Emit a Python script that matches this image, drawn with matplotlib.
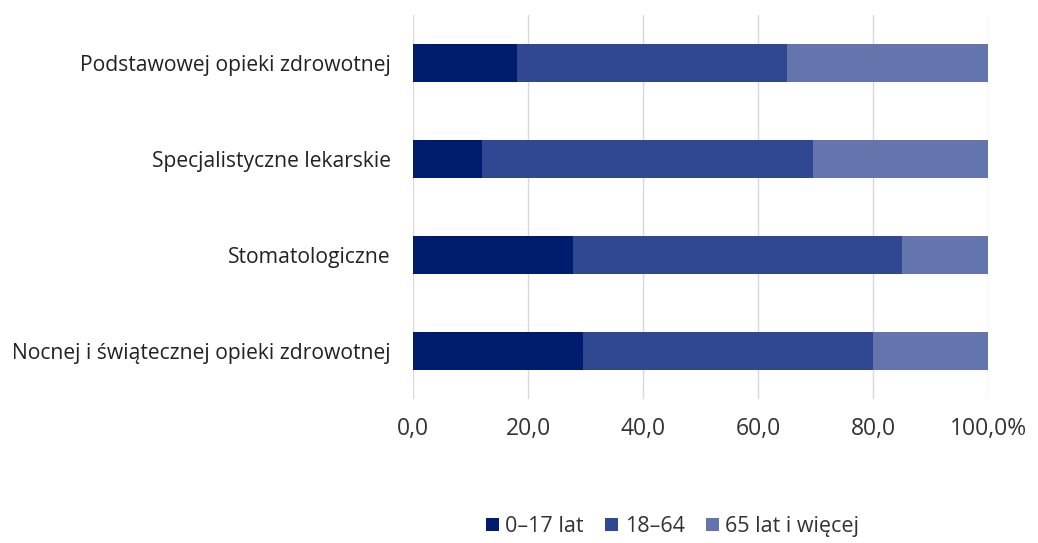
import matplotlib.pyplot as plt
import numpy as np

categories = ['Podstawowej opieki zdrowotnej', 'Specjalistyczne lekarskie',
              'Stomatologiczne', 'Nocnej i świątecznej opieki zdrowotnej']
age_0_17 = [18.1, 12.0, 27.8, 29.5]
age_18_64 = [46.9, 57.6, 57.2, 50.5]
age_65_plus = [35.0, 30.4, 15.0, 20.0]
series_labels = ['0–17 lat', '18–64', '65 lat i więcej']
colors = ['#001c6f', '#2f4891', '#6474ad']
xticks = [0, 20, 40, 60, 80, 100]
xtick_labels = ['0,0', '20,0', '40,0', '60,0', '80,0', '100,0%']

plt.rcParams['font.family'] = ['Open Sans', 'DejaVu Sans']

fig = plt.figure(figsize=(10.38, 5.43), dpi=100)
ax = fig.add_axes([0.398, 0.265, 0.554, 0.707])

y = np.arange(len(categories))
left = np.zeros(len(categories))
for vals, lab, col in zip([age_0_17, age_18_64, age_65_plus], series_labels, colors):
    ax.barh(y, vals, left=left, height=0.4, color=col, label=lab, zorder=3)
    left += np.array(vals)

ax.set_ylim(len(categories) - 0.5, -0.5)
ax.set_yticks(y)
ax.set_yticklabels(categories, fontsize=15.2, color='#222222')
ax.set_xlim(0, 100)
ax.set_xticks(xticks)
ax.set_xticklabels(xtick_labels, fontsize=16.5, color='#333333')
ax.grid(axis='x', color='#d9d9d9', linewidth=1, zorder=0)
for s in ax.spines.values():
    s.set_visible(False)
ax.tick_params(axis='both', length=0)
ax.tick_params(axis='x', pad=13)
ax.tick_params(axis='y', pad=16)

fig.legend(loc='lower center', bbox_to_anchor=(0.648, -0.025), ncol=3, frameon=False,
           fontsize=15.5, handlelength=0.6, handleheight=0.6, handletextpad=0.3,
           columnspacing=1.0, labelcolor='#333333')

fig.savefig('out.png', dpi=100)
